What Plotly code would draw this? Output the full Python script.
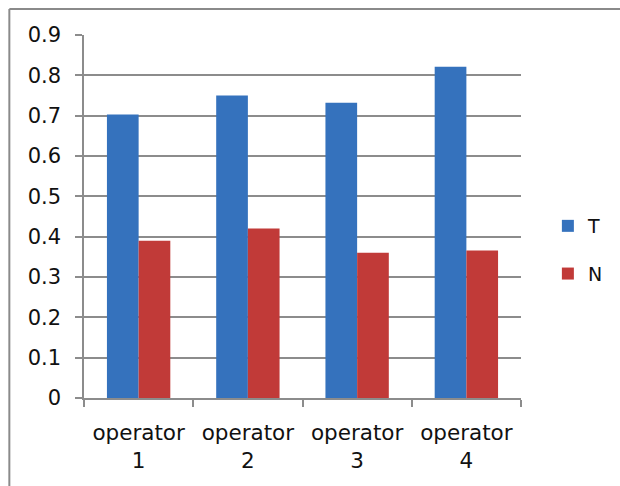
import plotly.graph_objects as go

categories = ["operator<br>1", "operator<br>2", "operator<br>3", "operator<br>4"]
t_values = [0.703, 0.750, 0.732, 0.821]
n_values = [0.390, 0.420, 0.360, 0.366]
y_ticks = [0, 0.1, 0.2, 0.3, 0.4, 0.5, 0.6, 0.7, 0.8, 0.9]
y_tick_labels = ["0", "0.1", "0.2", "0.3", "0.4", "0.5", "0.6", "0.7", "0.8", "0.9"]

W, H = 620, 486
L, R, T, B = 84, 97, 35, 88
pw, ph = W - L - R, H - T - B

def px_x(p):
    return (p - L) / pw

def px_y(p):
    return (H - B - p) / ph

fig = go.Figure()
fig.add_trace(go.Bar(x=categories, y=t_values, name="T", legendgroup="T",
                     marker=dict(color="#3572bd", line=dict(width=0))))
fig.add_trace(go.Bar(x=categories, y=n_values, name="N", legendgroup="N",
                     marker=dict(color="#c13a38", line=dict(width=0))))

font_family = "DejaVu Sans"
fig.update_layout(
    width=W, height=H,
    margin=dict(l=L, r=R, t=T, b=B, pad=0),
    paper_bgcolor="white", plot_bgcolor="white",
    barmode="group", bargap=0.42, bargroupgap=0,
    font=dict(family=font_family, size=20, color="#111111"),
    showlegend=True,
    legend=dict(x=px_x(550), y=px_y(207), xanchor="left", yanchor="top",
                font=dict(size=19, color="#111111"), tracegroupgap=20,
                bgcolor="rgba(0,0,0,0)", borderwidth=0),
    xaxis=dict(showgrid=False, showline=True, linecolor="#8c8c8c", linewidth=1.5,
               ticks="outside", tickson="boundaries", ticklen=7, tickcolor="#8c8c8c",
               tickwidth=1.5, tickfont=dict(size=21.5), ticklabelstandoff=14,
               range=[-0.5, 3.5]),
    yaxis=dict(range=[0, 0.9], tickvals=y_ticks, ticktext=y_tick_labels,
               showgrid=True, gridcolor="#8c8c8c", gridwidth=1.5,
               showline=True, linecolor="#8c8c8c", linewidth=1.5,
               ticks="outside", ticklen=7, tickcolor="#8c8c8c", tickwidth=1.5,
               tickfont=dict(size=21), ticklabelstandoff=10, zeroline=False),
    shapes=[
        dict(type="line", xref="paper", yref="paper", x0=px_x(9), x1=px_x(W + 5),
             y0=px_y(9), y1=px_y(9), line=dict(color="#8a8a8a", width=2)),
        dict(type="line", xref="paper", yref="paper", x0=px_x(9), x1=px_x(9),
             y0=px_y(9), y1=px_y(H + 5), line=dict(color="#8a8a8a", width=2)),
    ],
)

fig.write_html("out.html")
